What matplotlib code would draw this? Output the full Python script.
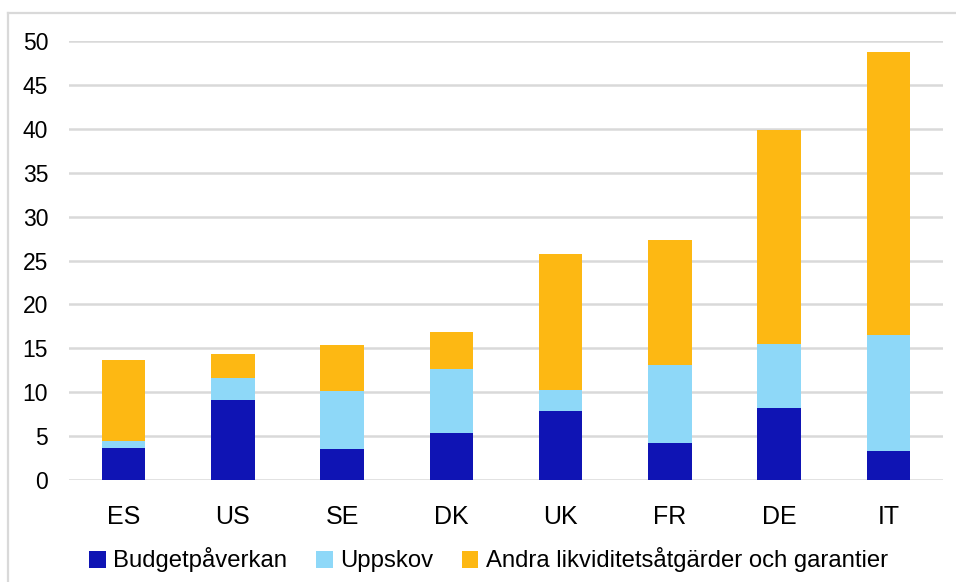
import matplotlib.pyplot as plt
import numpy as np
from matplotlib.lines import Line2D

plt.rcParams["font.family"] = ["Liberation Sans", "DejaVu Sans"]

countries = ["ES", "US", "SE", "DK", "UK", "FR", "DE", "IT"]
budget = [3.6, 9.1, 3.5, 5.4, 7.9, 4.25, 8.15, 3.35]
uppskov = [0.8, 2.55, 6.6, 7.25, 2.3, 8.8, 7.3, 13.15]
andra = [9.3, 2.65, 5.3, 4.15, 15.55, 14.3, 24.45, 32.2]

series_names = ["Budgetpåverkan", "Uppskov", "Andra likviditetsåtgärder och garantier"]
colors = ["#0f14b4", "#8ed8f8", "#fdb813"]
yticks = np.arange(0, 55, 5)

fig = plt.figure(figsize=(9.56, 5.82), dpi=100, facecolor="white")
ax = fig.add_axes([69 / 956, 1 - 480 / 582, (943 - 69) / 956, (480 - 41) / 582])

x = np.arange(len(countries))
bottom = np.zeros(len(countries))
for vals, name, col in zip([budget, uppskov, andra], series_names, colors):
    ax.bar(x, vals, width=0.4, bottom=bottom, color=col, label=name, zorder=3)
    bottom += np.array(vals)

ax.set_xlim(-0.5, len(countries) - 0.5)
ax.set_ylim(0, 50)
ax.set_yticks(yticks)
ax.set_xticks(x)
ax.set_xticklabels(countries)
ax.tick_params(axis="both", length=0)
ax.tick_params(axis="x", pad=18, labelsize=18)
ax.tick_params(axis="y", pad=15, labelsize=16.5)
ax.grid(axis="y", color="#d9d9d9", linewidth=1.8, zorder=0)
for side in ["top", "right", "left", "bottom"]:
    ax.spines[side].set_visible(False)

# light frame around the chart (cut off at right/bottom)
fig.add_artist(Line2D([8 / 956, 8 / 956], [-0.02, 1 - 13 / 582], transform=fig.transFigure,
                      color="#d9d9d9", linewidth=1.6))
fig.add_artist(Line2D([8 / 956, 1.02], [1 - 13 / 582, 1 - 13 / 582], transform=fig.transFigure,
                      color="#d9d9d9", linewidth=1.6))

fig.legend(loc="center", bbox_to_anchor=(0.511, 1 - 560 / 582), ncol=3, frameon=False,
           fontsize=17.2, handlelength=0.7, handleheight=0.7, handletextpad=0.3,
           columnspacing=1.2)

fig.savefig("out.png", dpi=100, facecolor="white")
